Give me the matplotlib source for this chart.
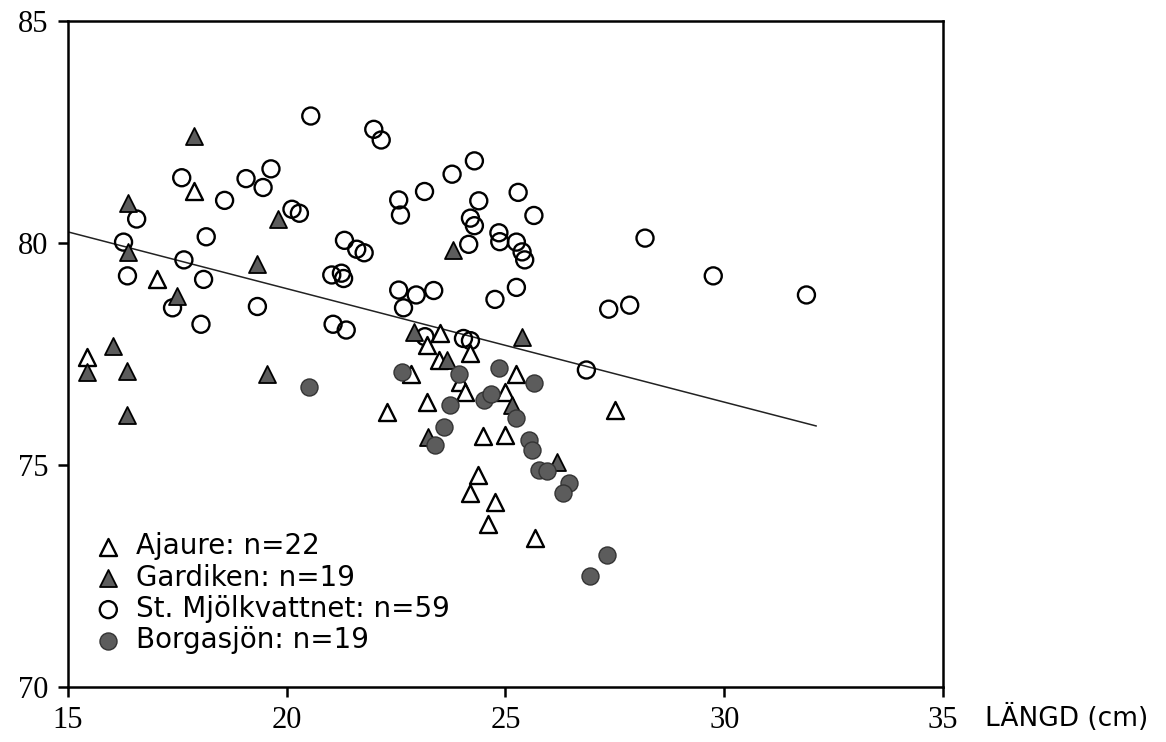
import matplotlib.pyplot as plt

# Ajaure (open triangles)
ajaure_x = [17.89, 17.03, 15.43, 23.51, 23.21, 24.20, 23.47, 22.83, 25.23, 23.97, 24.08,
            25.00, 23.21, 22.29, 27.50, 24.49, 24.98, 24.37, 24.19, 24.77, 24.60, 25.67]
ajaure_y = [81.16, 79.18, 77.44, 77.97, 77.70, 77.52, 77.36, 77.06, 77.06, 76.88, 76.65,
            76.65, 76.43, 76.19, 76.25, 75.65, 75.68, 74.77, 74.38, 74.17, 73.67, 73.36]

# Gardiken (filled triangles)
gardiken_x = [17.89, 16.37, 19.79, 16.38, 19.32, 17.49, 16.04, 15.44, 16.34, 19.55,
              16.34, 23.79, 25.38, 22.90, 23.67, 25.15, 23.22, 26.18]
gardiken_y = [82.41, 80.89, 80.53, 79.80, 79.52, 78.81, 77.68, 77.10, 77.12, 77.04,
              76.13, 79.84, 77.89, 78.00, 77.36, 76.35, 75.64, 75.07]

# St. Mjölkvattnet (open circles)
mjolk_x = [20.55, 17.60, 19.07, 19.64, 19.46, 18.58, 20.12, 20.29, 16.57, 18.16,
           16.27, 17.65, 16.36, 18.10, 17.39, 19.33, 18.04, 21.32, 21.60, 21.77,
           21.03, 21.30, 21.25, 21.06, 21.36, 21.99, 22.16, 24.29, 23.78, 23.15,
           22.56, 25.29, 24.39, 22.60, 24.20, 24.29, 25.65, 24.85, 24.87, 24.16,
           25.25, 25.38, 25.44, 22.56, 22.96, 23.36, 22.67, 24.76, 25.25, 27.36,
           27.84, 24.04, 24.20, 23.16, 26.85, 28.19, 29.75, 31.88]
mjolk_y = [82.86, 81.47, 81.45, 81.67, 81.25, 80.96, 80.76, 80.67, 80.54, 80.14,
           80.02, 79.62, 79.26, 79.18, 78.54, 78.57, 78.17, 80.06, 79.86, 79.78,
           79.28, 79.20, 79.32, 78.17, 78.04, 82.56, 82.32, 81.85, 81.55, 81.16,
           80.97, 81.14, 80.95, 80.63, 80.56, 80.39, 80.62, 80.23, 80.03, 79.97,
           80.02, 79.80, 79.62, 78.94, 78.83, 78.93, 78.54, 78.73, 79.00, 78.51,
           78.60, 77.85, 77.80, 77.89, 77.14, 80.11, 79.26, 78.83]

# Borgasjön (filled circles)
borga_x = [20.50, 22.63, 23.93, 24.85, 25.65, 24.50, 24.67, 23.74, 25.23, 23.59,
           23.40, 25.53, 25.61, 25.76, 25.94, 26.45, 26.32, 27.33, 26.93]
borga_y = [76.75, 77.10, 77.06, 77.18, 76.85, 76.46, 76.59, 76.35, 76.07, 75.86,
           75.45, 75.56, 75.34, 74.89, 74.87, 74.59, 74.36, 72.97, 72.49]

# regression line
line_x = [15.0, 32.1]
line_y = [80.25, 75.88]

xticks = [15, 20, 25, 30, 35]
yticks = [70, 75, 80, 85]
labels = ["Ajaure: n=22", "Gardiken: n=19", "St. Mjölkvattnet: n=59", "Borgasjön: n=19"]

fig = plt.figure(figsize=(11.66, 7.42), dpi=100)
ax = fig.add_axes([0.0583, 0.0741, 0.7504, 0.8976])

fill = "#5c5c5c"
ms = 150
ax.plot(line_x, line_y, color="#222222", lw=1.1, zorder=1)
ax.scatter(ajaure_x, ajaure_y, s=ms, marker="^", facecolor="white", edgecolor="black",
           linewidth=1.7, label=labels[0], zorder=3)
ax.scatter(gardiken_x, gardiken_y, s=ms, marker="^", facecolor=fill, edgecolor="black",
           linewidth=1.3, label=labels[1], zorder=3)
ax.scatter(mjolk_x, mjolk_y, s=ms, marker="o", facecolor="none", edgecolor="black",
           linewidth=1.7, label=labels[2], zorder=2)
ax.scatter(borga_x, borga_y, s=ms, marker="o", facecolor=fill, edgecolor="#333333",
           linewidth=1.0, label=labels[3], zorder=3)

ax.set_xlim(15, 35)
ax.set_ylim(70, 85)
tickfont = {"family": "Liberation Serif", "size": 22}
ax.set_xticks(xticks)
ax.set_xticklabels([str(v) for v in xticks], fontdict=tickfont)
ax.set_yticks(yticks)
ax.set_yticklabels([str(v) for v in yticks], fontdict=tickfont)
for s in ax.spines.values():
    s.set_linewidth(1.8)
ax.tick_params(direction="out", length=7, width=1.8, pad=7)

ax.annotate("LÄNGD (cm)", xy=(1, 0), xycoords="axes fraction", xytext=(30, -12),
            textcoords="offset points", ha="left", va="top", fontsize=19,
            family="DejaVu Sans")

leg = ax.legend(loc="lower left", bbox_to_anchor=(0.008, 0.02), frameon=False,
                fontsize=20, handletextpad=0.5, labelspacing=0.12, borderpad=0.2,
                handlelength=1.0)

fig.savefig("out.png", dpi=100)
